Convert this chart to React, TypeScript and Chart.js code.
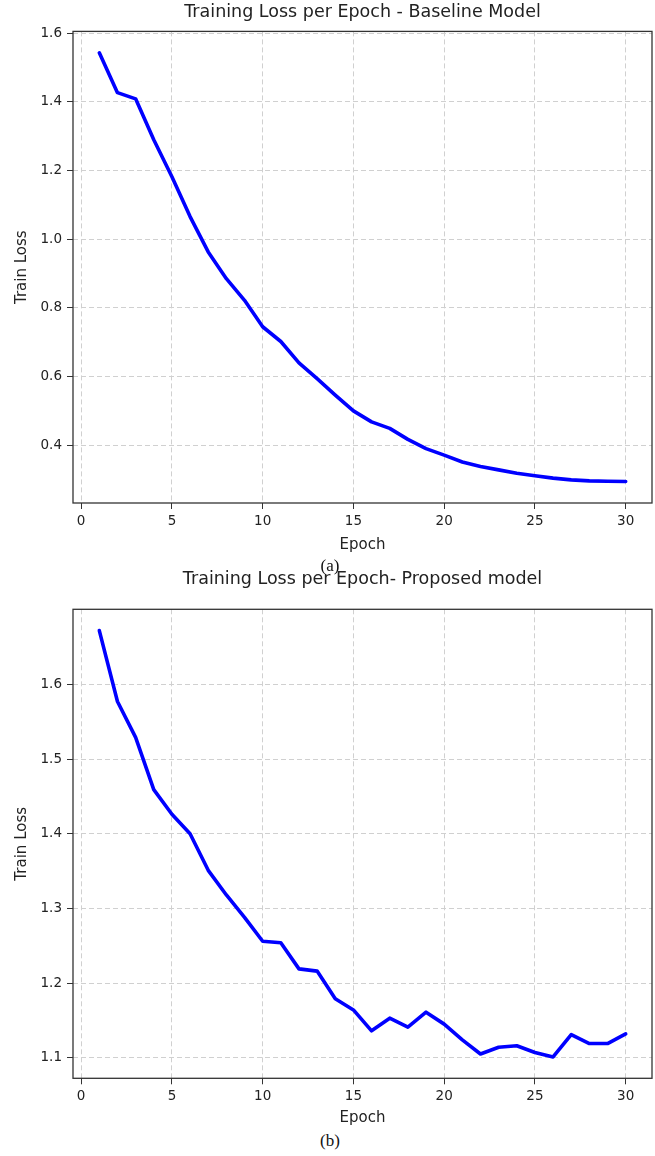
import React, { useEffect, useRef } from "react";
import { Chart, registerables } from "chart.js";

Chart.register(...registerables);

const epochs = [1, 2, 3, 4, 5, 6, 7, 8, 9, 10, 11, 12, 13, 14, 15, 16, 17, 18, 19, 20, 21, 22, 23, 24, 25, 26, 27, 28, 29, 30];

const baselineLoss = [
  1.543, 1.427, 1.409, 1.29, 1.182, 1.066, 0.963, 0.885, 0.822, 0.745,
  0.702, 0.64, 0.594, 0.546, 0.5, 0.468, 0.449, 0.417, 0.39, 0.371,
  0.351, 0.338, 0.328, 0.318, 0.311, 0.304, 0.299, 0.296, 0.295, 0.294,
];

const proposedLoss = [
  1.672, 1.577, 1.529, 1.459, 1.426, 1.4, 1.351, 1.318, 1.288, 1.256,
  1.254, 1.219, 1.216, 1.179, 1.164, 1.136, 1.153, 1.141, 1.161, 1.145,
  1.124, 1.105, 1.114, 1.116, 1.107, 1.101, 1.131, 1.119, 1.119, 1.132,
];

const xTicks = [0, 5, 10, 15, 20, 25, 30];
const baselineYTicks = [0.4, 0.6, 0.8, 1.0, 1.2, 1.4, 1.6];
const proposedYTicks = [1.1, 1.2, 1.3, 1.4, 1.5, 1.6];

const baselineTitle = "Training Loss per Epoch - Baseline Model";
const proposedTitle = "Training Loss per Epoch- Proposed model";
const xLabel = "Epoch";
const yLabel = "Train Loss";

const FONT = "'DejaVu Sans', sans-serif";

const framePlugin = {
  id: "frame",
  afterDraw(chart: any) {
    const { ctx, chartArea } = chart;
    const { left, top, right, bottom } = chartArea;
    ctx.save();
    ctx.strokeStyle = "#333333";
    ctx.lineWidth = 1.3;
    ctx.strokeRect(left, top, right - left, bottom - top);
    ctx.restore();
  },
};

function padRange(vals: number[]) {
  const mn = Math.min(...vals);
  const mx = Math.max(...vals);
  const p = (mx - mn) * 0.05;
  return [mn - p, mx + p];
}

type Props = {
  values: number[];
  yTicks: number[];
  title: string;
  top: number;
  height: number;
  titlePadTop: number;
  titlePadBottom: number;
  xAxisHeight: number;
  xTitlePadBottom: number;
};

function LossChart(props: Props) {
  const ref = useRef<HTMLCanvasElement | null>(null);
  useEffect(() => {
    if (!ref.current) return;
    const [yMin, yMax] = padRange(props.values);
    const [xMin, xMax] = padRange(epochs);
    const chart = new Chart(ref.current, {
      type: "line",
      data: {
        datasets: [
          {
            data: epochs.map((e, i) => ({ x: e, y: props.values[i] })),
            borderColor: "#0000ff",
            borderWidth: 3.6,
            pointRadius: 0,
            tension: 0,
            fill: false,
            borderJoinStyle: "round",
            borderCapStyle: "round",
          },
        ],
      },
      options: {
        animation: false,
        responsive: false,
        layout: { padding: { left: 0, right: 3, top: 0, bottom: 0 } },
        plugins: {
          legend: { display: false },
          tooltip: { enabled: false },
          title: {
            display: true,
            text: props.title,
            fullSize: false,
            color: "#222222",
            font: { family: FONT, size: 17.5, weight: "normal", lineHeight: 1.2 },
            padding: { top: props.titlePadTop, bottom: props.titlePadBottom },
          },
        },
        scales: {
          x: {
            type: "linear",
            min: xMin,
            max: xMax,
            afterBuildTicks: (s: any) => {
              s.ticks = xTicks.map((v) => ({ value: v }));
            },
            afterFit: (s: any) => {
              s.height = props.xAxisHeight;
            },
            ticks: {
              color: "#222222",
              font: { family: FONT, size: 13.5 },
              padding: 4,
              maxRotation: 0,
              autoSkip: false,
              callback: (v: any) => String(v),
            },
            grid: { color: "#d0d0d0", lineWidth: 1, tickColor: "#333333", tickLength: 6, tickWidth: 1 },
            border: { display: false, dash: [5, 3] },
            title: {
              display: true,
              text: xLabel,
              color: "#222222",
              font: { family: FONT, size: 15, lineHeight: 1.2 },
              padding: { top: 0, bottom: props.xTitlePadBottom },
            },
          },
          y: {
            type: "linear",
            min: yMin,
            max: yMax,
            afterBuildTicks: (s: any) => {
              s.ticks = props.yTicks.map((v) => ({ value: v }));
            },
            afterFit: (s: any) => {
              s.width = 73;
            },
            ticks: {
              color: "#222222",
              font: { family: FONT, size: 13.5 },
              padding: 5,
              autoSkip: false,
              callback: (v: any) => Number(v).toFixed(1),
            },
            grid: { color: "#d0d0d0", lineWidth: 1, tickColor: "#333333", tickLength: 6, tickWidth: 1 },
            border: { display: false, dash: [5, 3] },
            title: {
              display: true,
              text: yLabel,
              color: "#222222",
              font: { family: FONT, size: 15, lineHeight: 1.2 },
              padding: { top: 13, bottom: 0 },
            },
          },
        },
      },
      plugins: [framePlugin],
    } as any);
    return () => chart.destroy();
  }, []);
  return (
    <canvas
      ref={ref}
      width={655}
      height={props.height}
      style={{ position: "absolute", left: 0, top: props.top, width: 655, height: props.height }}
    />
  );
}

const captionStyle = (top: number): React.CSSProperties => ({
  position: "absolute",
  left: 300,
  top,
  width: 60,
  height: 22,
  lineHeight: "22px",
  textAlign: "center",
  fontFamily: "'Liberation Serif', 'Times New Roman', serif",
  fontSize: 17,
  color: "#111",
  zIndex: 2,
});

export default function App() {
  return (
    <div style={{ position: "absolute", left: 0, top: 0, width: 655, height: 1156, background: "#fff", overflow: "hidden" }}>
      <LossChart
        values={baselineLoss}
        yTicks={baselineYTicks}
        title={baselineTitle}
        top={0}
        height={556}
        titlePadTop={1.5}
        titlePadBottom={8.9}
        xAxisHeight={53}
        xTitlePadBottom={2.2}
      />
      <div style={captionStyle(555)}>(a)</div>
      <LossChart
        values={proposedLoss}
        yTicks={proposedYTicks}
        title={proposedTitle}
        top={566}
        height={564}
        titlePadTop={3.3}
        titlePadBottom={19}
        xAxisHeight={51.7}
        xTitlePadBottom={3.2}
      />
      <div style={captionStyle(1130)}>(b)</div>
    </div>
  );
}
